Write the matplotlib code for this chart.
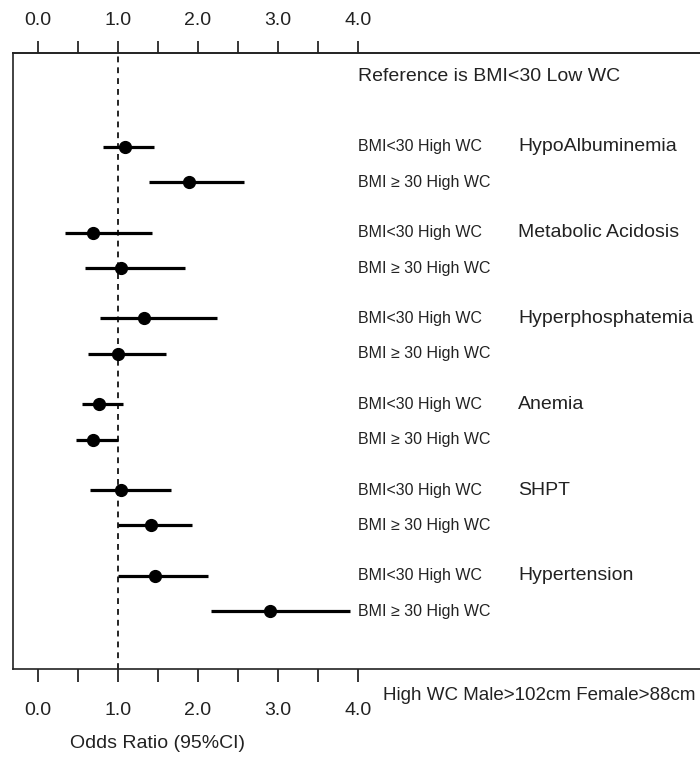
import matplotlib
matplotlib.use("Agg")
import matplotlib.pyplot as plt
import numpy as np

plt.rcParams['font.family'] = ['Liberation Sans', 'DejaVu Sans']

# data
conditions = ['HypoAlbuminemia', 'Metabolic Acidosis', 'Hyperphosphatemia',
              'Anemia', 'SHPT', 'Hypertension']
groups = ['BMI<30 High WC', 'BMI ≥ 30 High WC']
odds = [1.09, 1.89, 0.69, 1.04, 1.33, 1.00, 0.76, 0.69, 1.04, 1.41, 1.46, 2.90]
ci_low = [0.81, 1.39, 0.34, 0.59, 0.77, 0.63, 0.55, 0.48, 0.65, 1.00, 1.00, 2.16]
ci_high = [1.45, 2.57, 1.42, 1.84, 2.24, 1.60, 1.06, 1.00, 1.66, 1.92, 2.12, 3.90]

# row positions: pairs of rows, gap between conditions
gap = 2.42
ypos = np.array([g * gap + k for g in range(len(conditions)) for k in range(2)])

fig = plt.figure(figsize=(7, 7.57), dpi=100)
ax = fig.add_axes([13 / 700, 1 - 669 / 757, 1 - 13 / 700, (669 - 53) / 757])

ax.hlines(ypos, ci_low, ci_high, color='black', lw=2.3)
ax.plot(odds, ypos, 'o', color='black', ms=8.5)
ax.axvline(1.0, color='black', lw=1.2, ls=(0, (3.5, 3)))

txt = '#222222'
for i, y in enumerate(ypos):
    ax.text(4.0, y, groups[i % 2], fontsize=11.5, color=txt, va='center', ha='left')
for g, name in enumerate(conditions):
    ax.text(6.0, ypos[2 * g], name, fontsize=14, color=txt, va='center', ha='left')
ax.text(4.0, -2.0, 'Reference is BMI<30 Low WC', fontsize=14, color=txt,
        va='center', ha='left')

ax.set_xlim(-0.3125, 8.275)
ax.set_ylim(ypos[-1] + 1.63, -2.65)

ticks = np.arange(0, 4.01, 0.5)
labels = ['%.1f' % t if t == int(t) else '' for t in ticks]
ax.set_xticks(ticks)
ax.set_xticklabels(labels)
ax.set_yticks([])
ax.tick_params(axis='x', direction='out', length=9, width=1.1,
               labelsize=14, labelcolor=txt, pad=15)

# top axis with the same ticks
top = ax.secondary_xaxis('top')
top.set_xticks(ticks)
top.set_xticklabels(labels)
top.tick_params(axis='x', direction='out', length=9, width=1.1,
                labelsize=14, labelcolor=txt, pad=8.4)
top.spines['top'].set_linewidth(1.2)
top.spines['top'].set_color('#222222')

for s in ['left', 'top', 'bottom']:
    ax.spines[s].set_linewidth(1.2)
    ax.spines[s].set_color('#222222')
ax.spines['right'].set_visible(False)

fig.text(383 / 700, 1 - 695 / 757, 'High WC Male>102cm Female>88cm',
         fontsize=13.5, color=txt, va='center', ha='left')
fig.text(158 / 700, 1 - 743 / 757, 'Odds Ratio (95%CI)',
         fontsize=14, color=txt, va='center', ha='center')

fig.savefig('out.png', dpi=100)
